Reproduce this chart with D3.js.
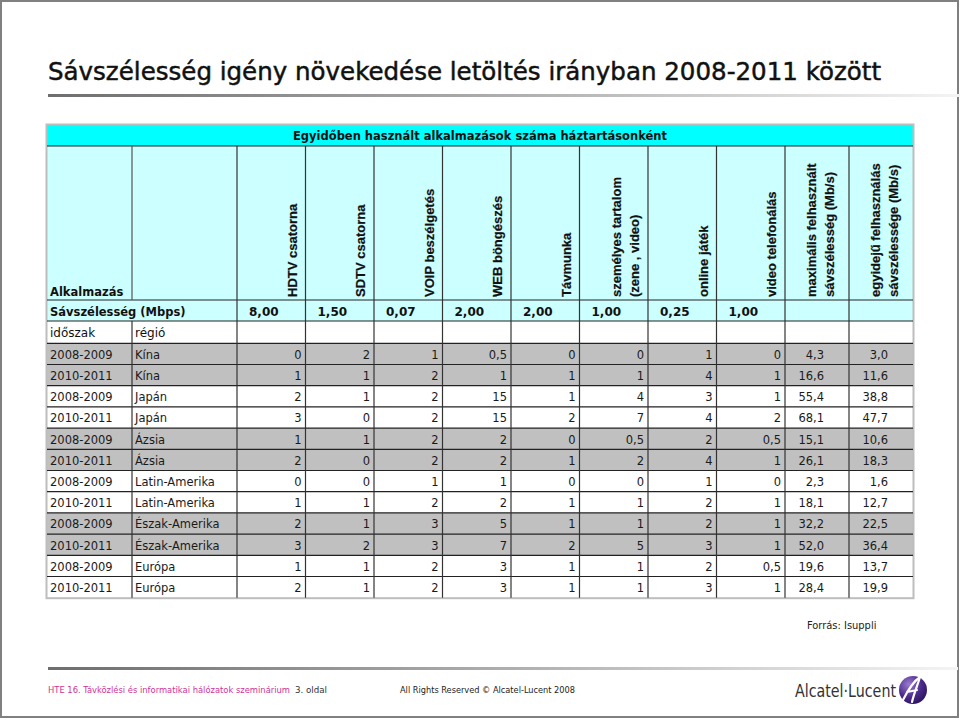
<!DOCTYPE html>
<html><head><meta charset="utf-8">
<script src="https://cdn.jsdelivr.net/npm/d3@7"></script>
<style>body{margin:0;background:#fff}svg{display:block}</style>
</head><body>
<script>
// ---- data ----
const title = "Sávszélesség igény növekedése letöltés irányban 2008-2011 között";
const groupHeader = "Egyidőben használt alkalmazások száma háztartásonként";
const appNames = [["HDTV csatorna"],["SDTV csatorna"],["VOIP beszélgetés"],["WEB böngészés"],["Távmunka"],["személyes tartalom","(zene , video)"],["online játék"],["video telefonálás"]];
const statNames = [["maximális felhasznált","sávszélesség (Mb/s)"],["egyidejű felhasználás","sávszélessége (Mb/s)"]];
const appBandwidth = [8, 1.5, 0.07, 2, 2, 1, 0.25, 1];
const periods = ["2008-2009","2010-2011","2008-2009","2010-2011","2008-2009","2010-2011","2008-2009","2010-2011","2008-2009","2010-2011","2008-2009","2010-2011"];
const regions = ["Kína","Kína","Japán","Japán","Ázsia","Ázsia","Latin-Amerika","Latin-Amerika","Észak-Amerika","Észak-Amerika","Európa","Európa"];
const hdtv      = [0,1,2,3,1,2,0,1,2,3,1,2];
const sdtv      = [2,1,1,0,1,0,0,1,1,2,1,1];
const voip      = [1,2,2,2,2,2,1,2,3,3,2,2];
const web       = [0.5,1,15,15,2,2,1,2,5,7,3,3];
const tavmunka  = [0,1,1,2,0,1,0,1,1,2,1,1];
const szemelyes = [0,1,4,7,0.5,2,0,1,1,5,1,1];
const online    = [1,4,3,4,2,4,1,2,2,3,2,3];
const videoTel  = [0,1,1,2,0.5,1,0,1,1,1,0.5,1];
const maxBw = [4.3,16.6,55.4,68.1,15.1,26.1,2.3,18.1,32.2,52.0,19.6,28.4];
const avgBw = [3.0,11.6,38.8,47.7,10.6,18.3,1.6,12.7,22.5,36.4,13.7,19.9];
const source = "Forrás: Isuppli";

const appSeries = [hdtv, sdtv, voip, web, tavmunka, szemelyes, online, videoTel];
const statSeries = [maxBw, avgBw];

// ---- helpers ----
const comma = s => s.replace(".", ",");
const fmtCount = v => comma(String(v));
const fmt1 = v => comma(d3.format(".1f")(v));
const fmt2 = v => comma(d3.format(".2f")(v));

const W = 960, H = 720;
const svg = d3.select("body").append("svg").attr("width", W).attr("height", H);
const defs = svg.append("defs");
const lg = defs.append("linearGradient").attr("id","rule");
lg.append("stop").attr("offset","0%").attr("stop-color","#6e6e6e");
lg.append("stop").attr("offset","55%").attr("stop-color","#b4b4b4");
lg.append("stop").attr("offset","100%").attr("stop-color","#f4f4f4");
const rg = defs.append("radialGradient").attr("id","logo").attr("cx","35%").attr("cy","30%").attr("r","75%");
rg.append("stop").attr("offset","0%").attr("stop-color","#9a7cd0");
rg.append("stop").attr("offset","60%").attr("stop-color","#4b2a8c");
rg.append("stop").attr("offset","100%").attr("stop-color","#2c145e");

svg.append("rect").attr("width",W).attr("height",H).attr("fill","#fff");
svg.append("rect").attr("x",1).attr("y",1).attr("width",957).attr("height",716)
  .attr("fill","none").attr("stroke","#808080").attr("stroke-width",2);

// title
const condensed = "'DejaVu Sans Condensed','Liberation Sans Narrow','Roboto Condensed','DejaVu Sans',sans-serif";
svg.append("text").attr("x",48).attr("y",80).attr("font-family",condensed)
  .attr("font-size",25.5).attr("fill","#111").attr("stroke","#111").attr("stroke-width",0.45)
  .attr("textLength",833).attr("lengthAdjust","spacingAndGlyphs")
  .text(title);
svg.append("rect").attr("x",48).attr("y",94).attr("width",912).attr("height",3).attr("fill","url(#rule)");

// ---- table geometry via scales ----
const tL = 47, tR = 913;
const c0 = [47,132], c1 = [132,237];
const xApp = d3.scaleBand().domain(d3.range(appNames.length)).range([237,785]);
const xStat = d3.scaleBand().domain(d3.range(statNames.length)).range([785,913]);
const yRow = d3.scaleBand().domain(d3.range(periods.length)).range([343.3,597.7]);
const yTop = 125, yGrp = 146, yHead = 300, yBw = 321, yPer = 343.3;

const g = svg.append("g");
const dataFont = "'DejaVu Sans',Verdana,sans-serif";
const headFont = "'Liberation Sans',Arial,sans-serif";

// backgrounds
g.append("rect").attr("x",tL).attr("y",yTop).attr("width",tR-tL).attr("height",yGrp-yTop).attr("fill","#00ffff");
g.append("rect").attr("x",tL).attr("y",yGrp).attr("width",tR-tL).attr("height",yBw-yGrp).attr("fill","#ccffff");
g.append("rect").attr("x",tL).attr("y",yBw).attr("width",tR-tL).attr("height",yPer-yBw).attr("fill","#ffffff");
g.selectAll("rect.row").data(d3.range(periods.length)).join("rect").attr("class","row")
  .attr("x",tL).attr("y",i=>yRow(i)).attr("width",tR-tL).attr("height",yRow.bandwidth())
  .attr("fill",i=> Math.floor(i/2)%2===0 ? "#c0c0c0" : "#ffffff");

// outer light border
g.append("rect").attr("x",tL-0.5).attr("y",yTop-0.5).attr("width",tR-tL+1).attr("height",yRow.range()[1]-yTop+1)
  .attr("fill","none").attr("stroke","#bdbdbd").attr("stroke-width",2);

// horizontal lines
const hLines = [yGrp, yHead, yBw, yPer].concat(d3.range(1,periods.length).map(i=>yRow(i)));
g.selectAll("line.h").data(hLines).join("line").attr("class","h")
  .attr("x1",tL).attr("x2",tR).attr("y1",d=>d).attr("y2",d=>d)
  .attr("stroke","#222").attr("stroke-width",1.2);

// vertical lines
const appEdges = d3.range(appNames.length).map(i=>xApp(i));
const statEdges = d3.range(statNames.length).map(i=>xStat(i));
const innerV = appEdges.concat(statEdges);
g.selectAll("line.v").data(innerV).join("line").attr("class","v")
  .attr("x1",d=>d).attr("x2",d=>d).attr("y1",yGrp).attr("y2",yRow.range()[1])
  .attr("stroke","#333").attr("stroke-width",1.2);
g.append("line").attr("x1",c1[0]).attr("x2",c1[0]).attr("y1",yGrp).attr("y2",yHead).attr("stroke","#555").attr("stroke-width",1.2);
g.append("line").attr("x1",c1[0]).attr("x2",c1[0]).attr("y1",yBw).attr("y2",yRow.range()[1]).attr("stroke","#333").attr("stroke-width",1.2);

// group header
g.append("text").attr("x",(tL+tR)/2).attr("y",yTop+15).attr("text-anchor","middle")
  .attr("font-family",dataFont).attr("font-weight","bold").attr("font-size",11.5).attr("fill","#111")
  .text(groupHeader);

// rotated headers
function rotHeader(lines, right){
  const n = lines.length;
  lines.forEach((t,k)=>{
    const bx = right - 9 - (n-1-k)*18;
    g.append("text").attr("transform",`translate(${bx},297) rotate(-90)`)
      .attr("font-family",headFont).attr("font-weight","bold").attr("font-size",13).attr("fill","#111")
      .attr("stroke","#111").attr("stroke-width",0.2)
      .text(t);
  });
}
appNames.forEach((lines,i)=> rotHeader(lines, xApp(i)+xApp.bandwidth()));
statNames.forEach((lines,i)=> rotHeader(lines, xStat(i)+xStat.bandwidth()-6));

g.append("text").attr("x",50).attr("y",296).attr("font-family",dataFont).attr("font-weight","bold")
  .attr("font-size",11.5).attr("fill","#111").text("Alkalmazás");

// bandwidth row
g.append("text").attr("x",50).attr("y",yBw-5).attr("font-family",dataFont).attr("font-weight","bold")
  .attr("font-size",11.5).attr("fill","#111").text("Sávszélesség (Mbps)");
g.selectAll("text.bw").data(appBandwidth).join("text").attr("class","bw")
  .attr("x",(d,i)=>xApp(i)+12).attr("y",yBw-5)
  .attr("font-family",dataFont).attr("font-weight","bold").attr("font-size",12).attr("fill","#111")
  .text(fmt2);

// period / region header
g.append("text").attr("x",50).attr("y",yPer-6).attr("font-family",dataFont).attr("font-size",12).attr("fill","#111").text("időszak");
g.append("text").attr("x",c1[0]+3).attr("y",yPer-6).attr("font-family",dataFont).attr("font-size",12).attr("fill","#111").text("régió");

// data rows
const rowG = g.selectAll("g.r").data(d3.range(periods.length)).join("g").attr("class","r")
  .attr("transform",i=>`translate(0,${yRow(i)+15.5})`)
  .attr("font-family",dataFont).attr("font-size",11.5).attr("fill","#1a1a1a");
rowG.append("text").attr("x",50).text(i=>periods[i]);
rowG.append("text").attr("x",c1[0]+3).text(i=>regions[i]);
appSeries.forEach((series,j)=>{
  rowG.append("text").attr("x",xApp(j)+xApp.bandwidth()-4).attr("text-anchor","end").text(i=>fmtCount(series[i]));
});
statSeries.forEach((series,j)=>{
  rowG.append("text").attr("x",xStat(j)+xStat.bandwidth()-25).attr("text-anchor","end").text(i=>fmt1(series[i]));
});

// source
svg.append("text").attr("x",807).attr("y",629).attr("font-family",condensed).attr("font-size",11).attr("fill","#222").text(source);

// footer
svg.append("rect").attr("x",48).attr("y",667).attr("width",910).attr("height",3).attr("fill","url(#rule)");
svg.append("text").attr("x",48).attr("y",693).attr("font-family",condensed).attr("font-size",9.5).attr("fill","#cc3399")
  .attr("textLength",242).attr("lengthAdjust","spacingAndGlyphs")
  .text("HTE 16. Távközlési és informatikai hálózatok szeminárium");
svg.append("text").attr("x",295).attr("y",693).attr("font-family",condensed).attr("font-size",9.5).attr("fill","#333")
  .attr("textLength",32).attr("lengthAdjust","spacingAndGlyphs").text("3. oldal");
svg.append("text").attr("x",400).attr("y",693).attr("font-family",condensed).attr("font-size",9.5).attr("fill","#222")
  .attr("textLength",175).attr("lengthAdjust","spacingAndGlyphs").text("All Rights Reserved © Alcatel-Lucent 2008");
svg.append("text").attr("x",795).attr("y",697).attr("font-family",condensed).attr("font-size",17).attr("fill","#333")
  .attr("textLength",101).attr("lengthAdjust","spacingAndGlyphs").text("Alcatel·Lucent");
svg.append("circle").attr("cx",913).attr("cy",690).attr("r",14).attr("fill","url(#logo)");
svg.append("path").attr("d","M903,700 C908,690 914,681 920,677 C918,684 914,693 912,702 M907,692 L917,690")
  .attr("fill","none").attr("stroke","#fff").attr("stroke-width",2.2).attr("stroke-linecap","round");
</script>
</body></html>
